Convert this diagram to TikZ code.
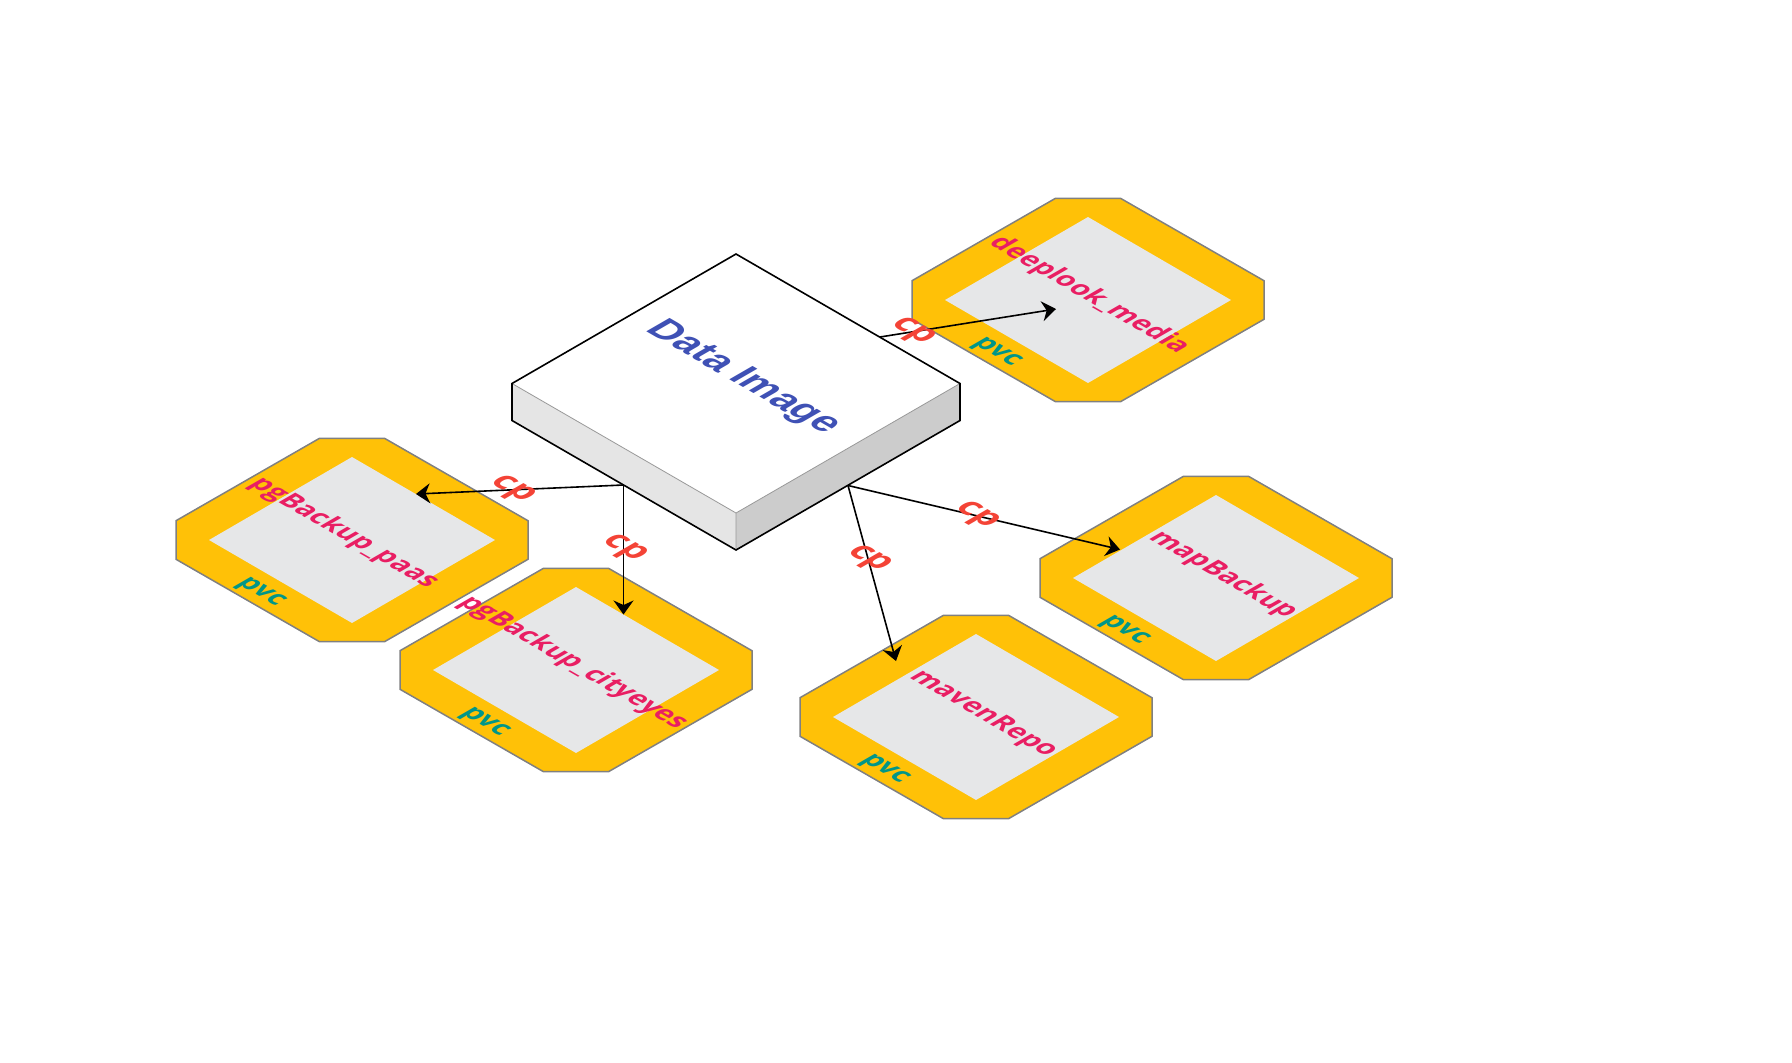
\documentclass[tikz,border=0pt]{standalone}
\usepackage{fontspec}
\setmainfont{Open Sans}
\newfontfamily\titlefont{Liberation Sans}
\usepackage{xcolor}
\usepackage{tikz}
\usetikzlibrary{arrows.meta}
\usetikzlibrary{positioning}
\definecolor{ambar}{HTML}{FFC107}
\definecolor{cinzaclaro}{HTML}{E6E7E8}
\definecolor{borda}{HTML}{808080}
\definecolor{rosa}{HTML}{E91E63}
\definecolor{verde}{HTML}{009688}
\definecolor{vermelho}{HTML}{F44336}
\definecolor{azul}{HTML}{3F51B5}
\tikzset{
  iso/.style={cm={0.866,-0.5,0.866,0.5,(0,0)}, inner sep=0pt},
  volume/.style={fill=ambar, draw=borda, line width=1.5pt, line join=miter},
  miolo/.style={fill=cinzaclaro},
  rotulo/.style={iso, text=rosa, font=\bfseries\fontsize{27}{31}\selectfont},
  pvc/.style={iso, text=verde, font=\bfseries\fontsize{27}{31}\selectfont},
  cp/.style={iso, text=vermelho, font=\bfseries\fontsize{34}{38}\selectfont},
  titulo/.style={iso, text=azul, font=\titlefont\bfseries\fontsize{39}{44}\selectfont},
  seta/.style={-{Stealth[length=14pt, width=20pt]}, line width=1.6pt},
}

\begin{document}
\begin{tikzpicture}[x=1pt, y=-1pt]
  \useasboundingbox (0,0) rectangle (1792,1063);
  % volumes (pvc)
  \foreach \n/\cx/\cy/\lx/\ly/\t in {dm/1088/300/1/-5/deeplook\_media, pp/352/540/-8/-7/pgBackup\_paas, pc/576/670/-3/-7/pgBackup\_cityeyes, mr/976/717/7/-3/mavenRepo, mb/1216/578/7/-3/mapBackup} {
    \begin{scope}[shift={(\cx,\cy)}]
      \filldraw[volume] (-32.5,-101.7) -- (32.5,-101.7) -- (176,-19.3) -- (176,19.3) -- (32.5,101.7) -- (-32.5,101.7) -- (-176,19.3) -- (-176,-19.3) -- cycle;
      \fill[miolo] (0,-83) -- (143,0) -- (0,83) -- (-143,0) -- cycle;
      \node[rotulo] (\n) at (\lx,\ly) {\t};
      \node[pvc] (\n-pvc) at (-92,53) {pvc};
    \end{scope}
  }
  % data image
  \fill[white] (736,254) -- (960,383.5) -- (736,513) -- (512,383.5) -- cycle;
  \fill[black!10] (512,383.5) -- (736,513) -- (736,550) -- (512,420.5) -- cycle;
  \fill[black!20] (736,513) -- (960,383.5) -- (960,420.5) -- (736,550) -- cycle;
  \draw[black!40, line width=0.8pt] (512,383.5) -- (736,513) -- (960,383.5) (736,513) -- (736,550);
  \draw[line width=1.6pt] (736,254) -- (960,383.5) -- (960,420.5) -- (736,550) -- (512,420.5) -- (512,383.5) -- cycle;
  \node[titulo] (di) at (743,378) {Data Image};
  \coordinate (di-dir) at (880,337);
  \coordinate (di-esq) at (623.5,485);
  \coordinate (di-baixo) at (848,485.5);
  % pontos de chegada
  \coordinate (dm-in) at (1056,309);
  \coordinate (pp-in) at (416,494);
  \coordinate (pc-in) at (623.5,614.5);
  \coordinate (mr-in) at (896,661);
  \coordinate (mb-in) at (1120,549.5);
  \draw[seta] (di-dir) -- node[cp, pos=0.18] {cp} (dm-in);
  \draw[seta] (di-esq) -- node[cp, pos=0.54] {cp} (pp-in);
  \draw[seta] (di-esq) -- node[cp, pos=0.49] {cp} (pc-in);
  \draw[seta] (di-baixo) -- node[cp, pos=0.47] {cp} (mb-in);
  \draw[seta] (di-baixo) -- node[cp, pos=0.42] {cp} (mr-in);
\end{tikzpicture}
\end{document}
